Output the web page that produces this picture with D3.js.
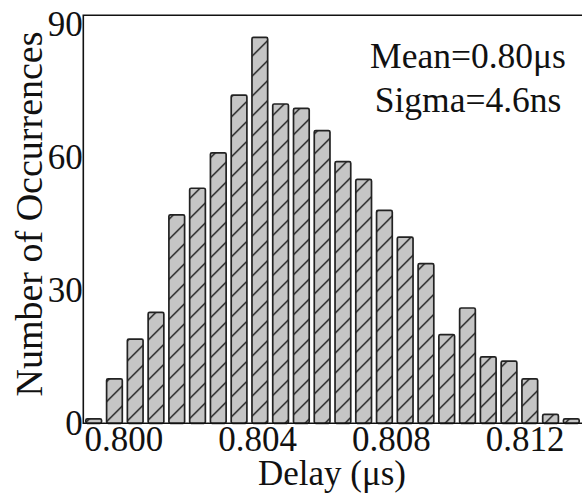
<!DOCTYPE html>
<html>
<head>
<meta charset="utf-8">
<script src="https://cdn.jsdelivr.net/npm/d3@7"></script>
<style>
  html, body { margin: 0; padding: 0; background: #fff; }
  svg { display: block; }
  text { font-family: "Liberation Serif", "Times New Roman", serif; fill: #111; }
</style>
</head>
<body>
<svg id="chart" width="582" height="495"></svg>
<script>
// Histogram of delay values (µs): lower/upper bin edges and occurrence counts
const binEdges = [
  0.798800, 0.799421, 0.800042, 0.800663, 0.801284, 0.801905, 0.802526,
  0.803147, 0.803768, 0.804389, 0.805010, 0.805631, 0.806252, 0.806873,
  0.807494, 0.808115, 0.808736, 0.809357, 0.809978, 0.810599, 0.811220,
  0.811841, 0.812462, 0.813083, 0.813704
];
const counts = [
  1, 10, 19, 25, 47, 53, 61, 74, 87, 72, 71, 66,
  59, 55, 48, 42, 36, 20, 26, 15, 14, 10, 2, 1
];
const xTicks = [0.800, 0.804, 0.808, 0.812];
const yTicks = [0, 30, 60, 90];
const statLines = ["Mean=0.80\u03BCs", "Sigma=4.6ns"];

const serif = "'Liberation Serif', 'Times New Roman', Times, serif";
const svg = d3.select("#chart");
const plotLeft = 83.3, plotRight = 581.7, plotTop = 15.3, plotBottom = 423.3;

const x = d3.scaleLinear().domain([0.7988, 0.813704]).range([plotLeft, plotRight]);
const y = d3.scaleLinear().domain([0, 92]).range([plotBottom, plotTop]);

// Hatch pattern: gray fill with "/" diagonals
const defs = svg.append("defs");
const pat = defs.append("pattern")
  .attr("id", "hatch")
  .attr("patternUnits", "userSpaceOnUse")
  .attr("x", 8.3).attr("y", 0)
  .attr("width", 20).attr("height", 20);
pat.append("rect").attr("width", 20).attr("height", 20).attr("fill", "#c5c5c5");
pat.append("path")
  .attr("d", "M-5,5 L5,-5 M0,20 L20,0 M15,25 L25,15")
  .attr("stroke", "#151515").attr("stroke-width", 1.35).attr("fill", "none");

// Bars
const bins = counts.map((c, i) => ({ x0: binEdges[i], x1: binEdges[i + 1], c }));
const frac = 0.756;
svg.append("g").selectAll("rect").data(bins).join("rect")
  .attr("x", d => {
    const w = x(d.x1) - x(d.x0);
    return x(d.x0) + w * (1 - frac) / 2;
  })
  .attr("width", d => (x(d.x1) - x(d.x0)) * frac)
  .attr("y", d => y(d.c))
  .attr("height", d => y(0) - y(d.c))
  .attr("rx", 1.5)
  .attr("fill", "url(#hatch)")
  .attr("stroke", "#222")
  .attr("stroke-width", 1.7);

// Frame: left, top and bottom lines
svg.append("path")
  .attr("d", `M${plotRight + 10},${plotTop} H${plotLeft} V${plotBottom} H${plotRight + 10}`)
  .attr("fill", "none").attr("stroke", "#111").attr("stroke-width", 1.6);

// Axes (labels only, no tick marks)
const yAxis = svg.append("g").attr("transform", `translate(${plotLeft},0)`)
  .call(d3.axisLeft(y).tickValues(yTicks).tickSize(0).tickPadding(0.5).tickFormat(d3.format("d")));
yAxis.attr("font-family", serif).attr("font-size", 35);
yAxis.select(".domain").remove();
yAxis.selectAll("text").attr("dy", "0.33em").attr("fill", "#111");

const xAxis = svg.append("g").attr("transform", `translate(0,${plotBottom})`)
  .call(d3.axisBottom(x).tickValues(xTicks).tickSize(0).tickPadding(2.5).tickFormat(d3.format(".3f")));
xAxis.attr("font-family", serif).attr("font-size", 35);
xAxis.select(".domain").remove();
xAxis.selectAll("text").attr("fill", "#111");

// Axis titles
svg.append("text")
  .attr("x", 332).attr("y", 485)
  .attr("text-anchor", "middle").attr("font-family", serif).attr("font-size", 35)
  .text("Delay (\u03BCs)");

svg.append("text")
  .attr("transform", "translate(42,214) rotate(-90)")
  .attr("text-anchor", "middle").attr("font-family", serif).attr("font-size", 38)
  .text("Number of Occurrences");

// Statistics annotation
svg.append("g").selectAll("text").data(statLines).join("text")
  .attr("x", 468).attr("y", (d, i) => 68 + i * 44)
  .attr("text-anchor", "middle").attr("font-family", serif).attr("font-size", 35.5)
  .text(d => d);
</script>
</body>
</html>
